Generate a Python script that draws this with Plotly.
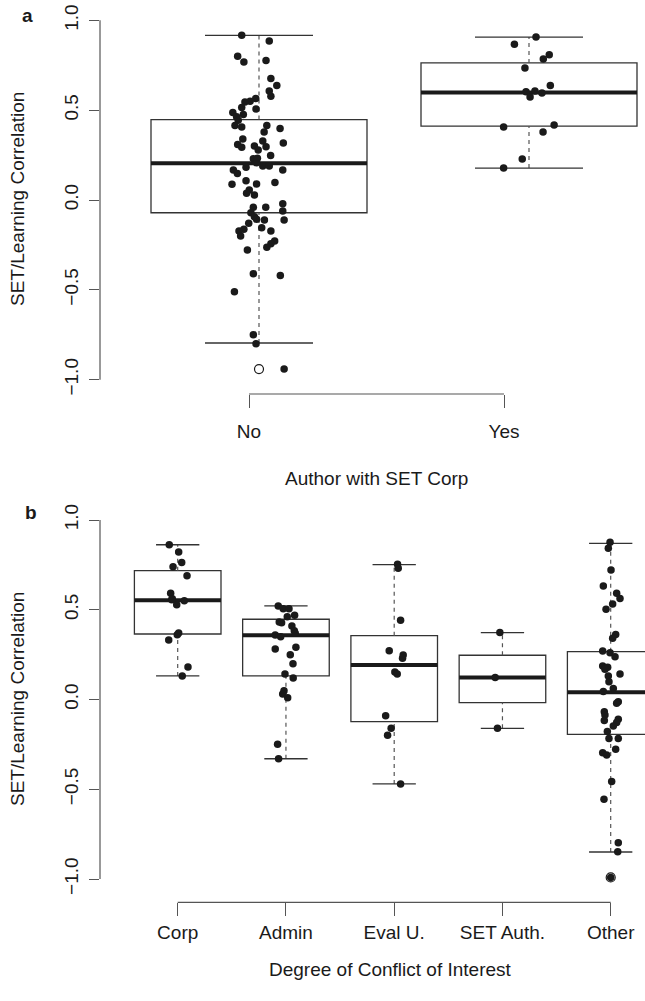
import plotly.graph_objects as go

# ---------------- data ----------------
# Panel a: SET/Learning correlation by "Author with SET Corp"
a_groups = ["No", "Yes"]
no_values = [0.917, 0.885, 0.800, 0.768, 0.776, 0.676, 0.637, 0.607, 0.578, 0.565,
             0.550, 0.546, 0.515, 0.507, 0.487, 0.463, 0.476, 0.444, 0.415, 0.407,
             0.415, 0.398, 0.379, 0.339, 0.309, 0.293, 0.328, 0.296, 0.300, 0.278,
             0.317, 0.248, 0.229, 0.232, 0.207, 0.189, 0.189, 0.182, 0.167, 0.148,
             0.167, 0.107, 0.087, 0.089, 0.098, 0.056, 0.037, 0.028, -0.041, -0.041,
             -0.021, -0.061, -0.071, -0.093, -0.107, -0.111, -0.111, -0.129, -0.154, -0.163,
             -0.172, -0.200, -0.172, -0.228, -0.244, -0.263, -0.279, -0.411, -0.421, -0.511,
             -0.750, -0.800, -0.941]
no_jitter = [-0.064, 0.038, -0.079, -0.056, 0.026, 0.044, 0.066, 0.038, 0.044, -0.012,
             -0.033, -0.052, -0.064, -0.011, -0.097, -0.083, -0.058, -0.077, -0.089, -0.064,
             0.029, 0.078, 0.019, -0.060, -0.079, -0.064, 0.014, 0.026, -0.017, -0.003,
             0.090, 0.043, -0.021, -0.006, -0.009, 0.014, 0.038, -0.048, -0.095, -0.080,
             0.088, -0.048, -0.100, -0.009, 0.059, -0.036, -0.046, -0.017, -0.021, 0.025,
             0.088, 0.088, -0.030, -0.017, -0.009, 0.020, 0.093, -0.038, 0.010, -0.056,
             -0.074, -0.068, 0.044, 0.058, 0.044, 0.029, -0.043, -0.021, 0.079, -0.091,
             -0.021, -0.011, 0.093]
yes_values = [0.907, 0.867, 0.809, 0.785, 0.735, 0.637, 0.602, 0.607, 0.574, 0.596,
              0.407, 0.417, 0.378, 0.228, 0.178]
yes_jitter = [0.026, -0.054, 0.075, 0.053, -0.015, 0.079, -0.011, 0.022, 0.004, 0.048,
              -0.094, 0.093, 0.052, -0.025, -0.094]
a_lo = [-0.796, 0.178]
a_q1 = [-0.071, 0.411]
a_med = [0.204, 0.598]
a_q3 = [0.448, 0.763]
a_hi = [0.917, 0.907]
a_outliers = [[-0.941], []]

# Panel b: by degree of conflict of interest
b_groups = ["Corp", "Admin", "Eval U.", "SET Auth.", "Other"]
corp_values = yes_values
corp_jitter = [-0.078, 0.009, 0.037, -0.043, 0.086, -0.065, -0.055, -0.050, -0.009, 0.061,
               -0.004, 0.009, -0.083, 0.095, 0.042]
admin_values = [0.567, 0.552, 0.552, 0.507, 0.515, 0.478, 0.474, 0.456, 0.429, 0.406,
                0.396, 0.415, 0.328, 0.337, 0.296, 0.246, 0.189, 0.167, 0.096, 0.078,
                0.057, -0.202, -0.282]
admin_jitter = [-0.071, -0.025, 0.028, 0.012, 0.080, -0.062, -0.040, 0.055, 0.077, -0.099,
                -0.049, 0.086, -0.099, 0.092, 0.040, 0.065, -0.009, 0.067, -0.018, -0.030,
                0.016, -0.077, -0.068]
evalu_values = [0.798, 0.776, 0.487, 0.318, 0.294, 0.276, 0.200, 0.189, -0.043, -0.113,
                -0.152, -0.422]
evalu_jitter = [0.031, 0.037, 0.059, -0.046, 0.083, 0.077, 0.006, 0.028, -0.079, -0.028,
                -0.061, 0.059]
setauth_values = [0.419, 0.169, -0.113]
setauth_jitter = [-0.024, -0.067, -0.046]
other_values = [0.921, 0.887, 0.767, 0.678, 0.637, 0.609, 0.578, 0.548, 0.409, 0.387,
                0.317, 0.307, 0.285, 0.233, 0.226, 0.215, 0.189, 0.178, 0.146, 0.091,
                0.109, 0.035, 0.026, -0.021, -0.039, -0.070, -0.063, -0.081, -0.100, -0.131,
                -0.169, -0.169, -0.229, -0.248, -0.261, -0.409, -0.507, -0.748, -0.798, -0.941]
other_jitter = [-0.006, -0.022, 0.003, -0.068, 0.055, 0.086, 0.018, -0.043, 0.046, 0.018,
                -0.074, -0.006, 0.040, -0.074, -0.028, -0.053, 0.086, -0.022, -0.016, -0.068,
                0.024, 0.070, 0.055, -0.059, -0.053, -0.059, 0.070, 0.055, 0.024, -0.031,
                0.070, -0.016, 0.046, -0.074, -0.037, 0.009, -0.062, 0.070, 0.065, 0.0]
b_lo = [0.178, -0.282, -0.422, -0.113, -0.800]
b_q1 = [0.411, 0.178, -0.076, 0.030, -0.146]
b_med = [0.598, 0.404, 0.239, 0.169, 0.087]
b_q3 = [0.763, 0.493, 0.402, 0.293, 0.313]
b_hi = [0.907, 0.567, 0.796, 0.419, 0.915]
b_outliers = [[], [], [], [], [-0.941]]

y_ticks = [-1.0, -0.5, 0.0, 0.5, 1.0]

# ---------------- styling / geometry ----------------
W, H = 645, 1001
FONT = "Liberation Sans, Arial, Helvetica, sans-serif"
FS = 19
TXT = "#1a1a1a"
LINE = "#333333"
AX = "#555555"
DOT = "#1a1a1a"

def px_x(p):
    return p / W

def px_y(p):
    return 1 - p / H

fig = go.Figure()
shapes = []

def add_boxes(xref, yref, lo, q1, med, q3, hi):
    for i in range(len(med)):
        c = i + 1
        shapes.append(dict(type="rect", xref=xref, yref=yref, x0=c - 0.4, x1=c + 0.4,
                           y0=q1[i], y1=q3[i], line=dict(color=LINE, width=1.3),
                           fillcolor="rgba(0,0,0,0)", layer="below"))
        shapes.append(dict(type="line", xref=xref, yref=yref, x0=c - 0.4, x1=c + 0.4,
                           y0=med[i], y1=med[i], line=dict(color=DOT, width=4), layer="below"))
        for a, b in ((q3[i], hi[i]), (lo[i], q1[i])):
            shapes.append(dict(type="line", xref=xref, yref=yref, x0=c, x1=c, y0=a, y1=b,
                               line=dict(color=AX, width=1.2, dash="4px,4px"), layer="below"))
        for v in (lo[i], hi[i]):
            shapes.append(dict(type="line", xref=xref, yref=yref, x0=c - 0.2, x1=c + 0.2,
                               y0=v, y1=v, line=dict(color=LINE, width=1.3), layer="below"))

def add_points(xa, ya, idx, values, jitter):
    fig.add_trace(go.Scatter(
        x=[idx + j for j in jitter], y=values, mode="markers", xaxis=xa, yaxis=ya,
        marker=dict(size=7.5, color=DOT, line=dict(width=0)), showlegend=False,
        hoverinfo="y", cliponaxis=False))

def add_outliers(xa, ya, outs):
    xs, ys = [], []
    for i, o in enumerate(outs):
        for v in o:
            xs.append(i + 1)
            ys.append(v)
    if xs:
        fig.add_trace(go.Scatter(
            x=xs, y=ys, mode="markers", xaxis=xa, yaxis=ya,
            marker=dict(size=9, symbol="circle-open", color=DOT, line=dict(width=1.2)),
            showlegend=False, hoverinfo="y", cliponaxis=False))

# Panel a
add_boxes("x", "y", a_lo, a_q1, a_med, a_q3, a_hi)
add_outliers("x", "y", a_outliers)
add_points("x", "y", 1, no_values, no_jitter)
add_points("x", "y", 2, yes_values, yes_jitter)

# Panel b
add_boxes("x2", "y2", b_lo, b_q1, b_med, b_q3, b_hi)
for k, (vals, jit) in enumerate([(corp_values, corp_jitter), (admin_values, admin_jitter),
                                  (evalu_values, evalu_jitter), (setauth_values, setauth_jitter),
                                  (other_values, other_jitter)]):
    add_points("x2", "y2", k + 1, vals, jit)
add_outliers("x2", "y2", b_outliers)

# axis lines (R style: only between extreme ticks)
shapes.append(dict(type="line", xref="paper", yref="y", x0=px_x(100), x1=px_x(100),
                   y0=y_ticks[0], y1=y_ticks[-1], line=dict(color=AX, width=1.2)))
shapes.append(dict(type="line", xref="paper", yref="y4", x0=px_x(100), x1=px_x(100),
                   y0=y_ticks[0], y1=y_ticks[-1], line=dict(color=AX, width=1.2)))
shapes.append(dict(type="line", xref="x3", yref="paper", x0=1, x1=len(a_groups),
                   y0=px_y(394), y1=px_y(394), line=dict(color=AX, width=1.2)))
shapes.append(dict(type="line", xref="x2", yref="paper", x0=1, x1=len(b_groups),
                   y0=px_y(902.4), y1=px_y(902.4), line=dict(color=AX, width=1.2)))

tickfont = dict(family=FONT, size=FS, color=TXT)
noaxis = dict(showgrid=False, zeroline=False, showline=False, ticks="", showticklabels=False,
              automargin=False)

ydom_a = [px_y(394), px_y(6)]
ydom_b = [px_y(902.4), px_y(513.6)]
xdom = [px_x(100), 1.0]

yaxis_common = dict(showgrid=False, zeroline=False, showline=False, ticks="outside",
                    ticklen=10, tickwidth=1.2, tickcolor=AX, tickvals=y_ticks,
                    tickformat=".1f", tickangle=-90, tickfont=tickfont, automargin=False,
                    ticklabelstandoff=3)
xaxis_common = dict(showgrid=False, zeroline=False, showline=False, ticks="outside",
                    ticklen=12.5, tickwidth=1.2, tickcolor=AX, tickfont=tickfont,
                    automargin=False)

fig.update_layout(
    width=W, height=H, margin=dict(l=0, r=0, t=0, b=0, autoexpand=False),
    paper_bgcolor="white", plot_bgcolor="white", showlegend=False,
    font=dict(family=FONT, size=FS, color=TXT),
    xaxis=dict(domain=xdom, anchor="y", range=[1 - 159 / 270, 2 + 116 / 270], **noaxis),
    yaxis=dict(domain=ydom_a, anchor="x", range=[-1.08, 1.08], **yaxis_common),
    xaxis3=dict(overlaying="x", anchor="y", range=[1 - 149 / 255, 2 + 141 / 255],
                tickvals=[1, 2], ticktext=a_groups, ticklabelstandoff=8, **xaxis_common),
    xaxis2=dict(domain=xdom, anchor="y2", range=[1 - 77.7 / 108.25, 1 + 467.3 / 108.25],
                tickvals=[1, 2, 3, 4, 5], ticktext=b_groups, **xaxis_common),
    yaxis2=dict(domain=ydom_b, anchor="x2", range=[-1.08, 1.08], **noaxis),
    yaxis4=dict(overlaying="y2", anchor="x2", range=[(699.5 - 902.4) / 179.5, (699.5 - 513.6) / 179.5],
                **yaxis_common),
    shapes=shapes,
)

# invisible traces so the overlaid tick axes (xaxis3 / yaxis4) render
fig.add_trace(go.Scatter(x=[1], y=[0], xaxis="x3", yaxis="y", mode="markers",
                         marker=dict(opacity=0), showlegend=False, hoverinfo="skip"))
fig.add_trace(go.Scatter(x=[1], y=[0], xaxis="x2", yaxis="y4", mode="markers",
                         marker=dict(opacity=0), showlegend=False, hoverinfo="skip"))

ann = []
def label(text, x, y, angle=0, bold=False):
    ann.append(dict(text=("<b>%s</b>" % text) if bold else text, xref="paper", yref="paper",
                    x=px_x(x), y=px_y(y), showarrow=False, textangle=angle,
                    xanchor="center", yanchor="middle",
                    font=dict(family=FONT, size=FS, color=TXT)))

label("a", 27, 15, bold=True)
label("b", 31, 512, bold=True)
label("SET/Learning Correlation", 17, 199, angle=-90)
label("SET/Learning Correlation", 17, 699, angle=-90)
label("Author with SET Corp", 376, 478)
label("Degree of Conflict of Interest", 390, 969)
fig.update_layout(annotations=ann)

fig.write_html("out.html", config={"displayModeBar": False},
               post_script="document.body.style.margin='0px';document.body.style.padding='0px';")
